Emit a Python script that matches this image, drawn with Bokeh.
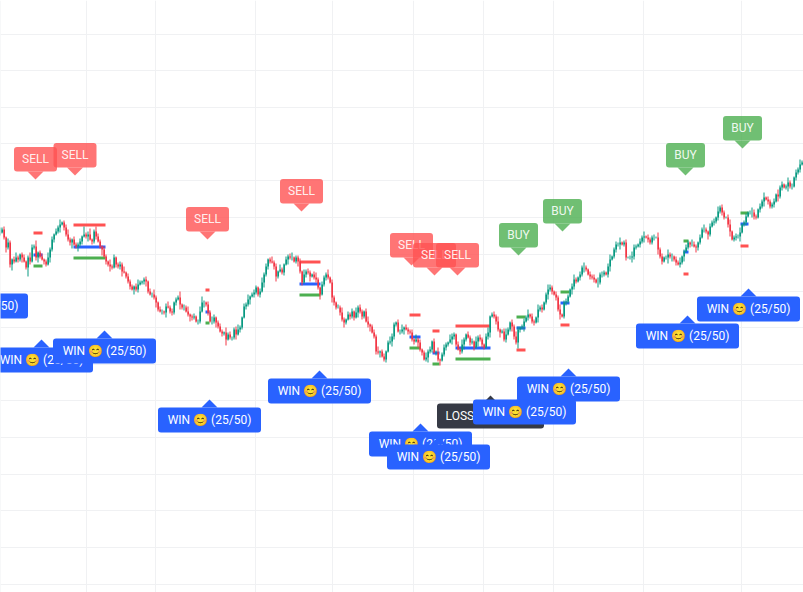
from bokeh.embed import file_html
from bokeh.resources import INLINE
from bokeh.plotting import figure
from bokeh.models import Range1d, FixedTicker
from bokeh.core.properties import value

# Prices, one bar per time step (time step = 2 units)
closes_a = [359,362,354,344,349,327,332,330,334,332,337,334,330,324,334,330,344,345,334,339,
            335,332,330,327,334,342,352,357,360,364,367,369,364,357,352,349,352,347,345,347,
            350,355,357,355,357,352,350,360,355,350,345,342,335,330,327,325,324,334,327,325,
            327,320,319,315,310,305,302,305,302,307,309,310,312,310,300,297,297,294,289,282,
            280,280,279,285,284,280,279,289,292,294,287,284,284,280,277,275,274,275,270,270]
closes_b = [280,289,289,287,279,270,270,274,269,265,260,258,259,252,257,254,254,262,257,262,
            264,274,285,287,292,295,297,299,304,297,300,309,317,325,332,330,329,325,315,320,
            322,319,327,332,335,334,334,330,334,330,320,309,317,320,319,315,317,314,312,304,
            297,307,314,317,314,309,294,289,284,284,279,272,269,272,277,275,280,274,279,284,
            280,275,280,270,267,265,259,255,240,239,240,235,232,240,249,250,255,267,269,260]
closes_c = [260,262,264,262,260,259,252,250,252,249,242,239,232,234,240,242,250,239,239,232,
            231,237,244,247,249,252,255,257,247,242,240,247,252,257,254,249,250,244,250,254,
            252,247,244,255,259,275,277,275,270,262,259,260,252,257,262,269,265,255,249,262,
            264,265,270,274,277,275,270,269,274,282,284,282,289,297,302,304,300,297,294,282,
            277,275,289,290,295,302,305,312,310,314,317,324,324,322,317,315,314,312,309,309]
closes_d = [317,317,319,317,325,332,335,342,347,347,349,347,349,334,334,334,335,344,345,347,
            350,354,355,354,352,349,354,354,354,342,335,330,334,334,337,335,335,332,329,327,
            329,335,340,344,349,347,347,345,344,349,354,362,362,360,357,365,369,370,374,380,
            384,379,374,374,367,360,352,354,355,355,359,367,369,375,379,379,379,375,374,382,
            385,390,394,392,390,385,387,390,397,395,404,407,404,405,409,405,405,414,419,422,
            427,429]
closes = closes_a + closes_b + closes_c + closes_d

# How far each wick reaches past the body
wick_up = [5,2,3,1,4,2,1,3,5,2,1,2,3,1,2,5,3,2,6,1,2,3,1,2,5,2,3,1,3,2,5,1,2,3,5,2,1,3,2,2,
           3,1,8,2,3,6,1,2,5,3,2,1,3,2,1,5,2,3,1,2,3,2,5,1,3,2,2,1,3,5,2,1,2,3,1,3,2,5,2,1,
           3,2,1,3,5,2,3,1,2,2,6,1,3,2,5,1,2,3,1,2,5,6,2,1,3,2,5,3,1,2,3,2,1,5,2,3,1,2,3,5,
           2,1,3,2,5,1,2,3,2,1,3,5,2,3,1,2,5,2,3,1,5,2,1,3,2,3,5,1,2,2,3,1,5,2,3,2,1,3,5,2,
           1,3,2,2,5,1,3,2,1,3,2,5,2,1,3,2,3,1,5,2,3,2,1,3,5,1,2,3,2,5,1,2,3,1,2,5,3,2,1,3,
           2,5,1,3,2,2,3,1,5,2,3,1,2,5,2,3,1,3,2,5,1,2,3,2,1,5,3,2,1,3,2,5,2,1,3,2,3,1,5,2,
           3,2,1,3,5,1,2,3,2,5,1,2,3,6,2,1,3,2,5,3,1,2,3,2,5,1,3,2,1,5,2,3,1,2,5,3,2,1,3,2,
           5,1,2,3,2,1,3,5,2,1,3,2,5,2,1,3,2,3,1,5,2,3,2,1,3,5,1,2,3,2,5,1,2,3,1,2,5,3,2,1,
           3,2,5,1,3,2,2,3,1,5,2,3,1,2,5,2,3,1,3,2,5,1,2,3,2,1,5,3,2,1,3,2,5,2,1,3,2,3,1,5,
           2,3,2,1,3,5,1,2,3,2,5,1,2,3,1,2,5,3,2,1,3,2,5,1,3,2,2,3,1,5,2,3,1,2,5,2,3,1,3,2,
           5,2]
wick_down = [3,1,2,5,2,3,6,2,1,3,2,5,1,2,9,3,1,2,3,5,2,1,3,2,1,5,2,3,1,2,5,1,3,2,2,3,6,1,2,5,
             2,3,1,2,5,1,3,2,3,1,2,6,1,3,2,5,2,1,3,2,3,5,1,2,2,3,1,5,2,3,1,2,3,5,2,1,3,2,5,2,
             1,3,2,5,1,2,3,2,3,1,5,2,3,1,2,5,3,2,1,3,2,1,5,2,3,1,3,2,5,2,1,3,2,6,1,2,3,2,5,1,
             3,2,1,3,2,5,1,3,2,2,3,1,5,2,3,2,1,3,5,2,1,2,3,1,5,2,3,1,2,5,2,3,1,3,2,5,1,2,3,2,
             5,1,2,3,2,1,5,3,2,1,3,2,5,2,1,3,2,3,1,5,2,3,2,1,3,5,1,2,3,2,5,1,2,3,1,2,5,3,2,1,
             3,2,5,1,3,2,2,3,1,5,2,3,1,2,5,2,3,1,3,2,5,1,2,3,2,1,5,3,2,1,3,2,5,2,1,3,2,3,1,5,
             2,3,2,1,3,5,1,2,3,2,5,1,2,3,1,2,5,3,2,6,3,2,5,1,3,2,2,3,1,5,2,3,1,2,5,2,3,1,3,2,
             5,1,2,3,2,1,5,3,2,1,3,2,5,2,1,3,2,3,1,5,2,3,2,1,3,5,1,2,3,2,5,1,2,3,1,2,5,3,2,1,
             3,2,5,1,3,2,2,3,1,5,2,3,1,2,6,2,5,2,3,1,3,2,5,1,2,3,2,1,5,3,2,1,3,2,5,2,1,3,2,3,
             2,3,2,1,3,5,1,2,3,2,5,1,2,3,1,2,5,3,2,1,3,2,5,1,3,2,2,3,1,5,2,3,1,2,5,2,3,1,3,2,
             3,1]

# Trade levels
level_start = [34,74,206,300,410,433,456,517,561,684,741]
level_end = [43,106,210,321,421,440,491,526,570,689,749]
level_red = [358.5,366.5,301.5,329.5,276.5,260.5,265.5,241.5,266.5,317.5,345.5]
level_blue = [336.5,344.5,279.5,307.5,254.5,238.5,243.5,263.5,288.5,339.5,367.5]
level_green = [325.5,333.5,268.5,296.5,243.5,227.5,232.5,274.5,299.5,350.5,378.5]

# Signals (flags above price, point at the anchor)
sell_x = [36,75.5,208,302,412,435,458]
sell_y = [412,416,352,380,326,316,316]
buy_x = [519,563,686,743]
buy_y = [336,360,416,443]
buy_labels = ["BUY"] * 4
sell_labels = ["SELL"] * 7

# Results (flags below price, in drawing order)
result_x = [-23,491,569,42,105,210,320,421,439,525,688,749]
result_y = [306,196,223,252,261,192,221,168,155,200,276,303]
result_labels = ["WIN 😊 (25/50)","LOSS 😭 (25/50)","WIN 😊 (25/50)","WIN 😊 (25/50)","WIN 😊 (25/50)",
                 "WIN 😊 (25/50)","WIN 😊 (25/50)","WIN 😊 (25/50)","WIN 😊 (25/50)","WIN 😊 (25/50)",
                 "WIN 😊 (25/50)","WIN 😊 (25/50)"]
result_colors = ["#2962ff","#363a45"] + ["#2962ff"] * 10

grid_x = [0.5,86.5,155.5,255.5,332.5,413.5,483.5,553.5,643.5,741.5]
grid_y = [557.5,521.5,484.5,448.5,411.5,374.5,337.5,300.5,264.5,227.5,191.5,154.5,117.5,81.5,44.5,7.5]

UP, DOWN = "#089981", "#f23645"
n = len(closes)
times = [2 * i + 0.5 for i in range(n)]
opens = [closes[0]] + closes[:-1]
highs = [max(o, c) + w for o, c, w in zip(opens, closes, wick_up + [1] * n)]
lows = [min(o, c) - w for o, c, w in zip(opens, closes, wick_down + [1] * n)]
colors = [UP if c >= o else DOWN for o, c in zip(opens, closes)]

p = figure(width=803, height=592, output_backend="svg", toolbar_location=None,
           x_range=Range1d(1, 804), y_range=Range1d(-1, 591), min_border=0,
           background_fill_color="white", border_fill_color="white", outline_line_color=None)
p.xaxis.visible = False
p.yaxis.visible = False
p.xgrid.ticker = FixedTicker(ticks=grid_x)
p.ygrid.ticker = FixedTicker(ticks=grid_y)
p.xgrid.grid_line_color = "#f0f1f3"
p.ygrid.grid_line_color = "#f0f1f3"

for ys, col in ((level_red, "#ff5252"), (level_blue, "#2962ff"), (level_green, "#4caf50")):
    p.segment(level_start, ys, level_end, ys, line_color=col, line_width=3, line_cap="butt")

p.segment(times, highs, times, lows, line_color=colors, line_width=1)
p.vbar(x=[t + 0.25 for t in times], top=[max(o, c) for o, c in zip(opens, closes)],
       bottom=[min(o, c) for o, c in zip(opens, closes)], width=1.5,
       fill_color=colors, line_color=None)

def flags_above(xs, ys, labels, col):
    hw, tip, h = 21.5 if labels[0] == "SELL" else 19.5, 8, 24.5
    for x, y, lab in zip(xs, ys, labels):
        p.quad(left=[x - hw], right=[x + hw], bottom=[y + tip], top=[y + tip + h],
               fill_color=col, fill_alpha=0.8, line_color=None, border_radius=3)
        p.patches([[x - 8, x, x + 8]], [[y + tip, y, y + tip]],
                  fill_color=col, fill_alpha=0.8, line_color=None)
        p.text([x], [y + tip + h / 2 + 0.5], text=[lab], text_align="center",
               text_baseline="middle", text_color="white", text_alpha=0.9,
               text_font=value("Roboto"), text_font_size="12px")

flags_above(sell_x, sell_y, sell_labels, "#ff5252")
flags_above(buy_x, buy_y, buy_labels, "#4caf50")

for x, y, lab, col in zip(result_x, result_y, result_labels, result_colors):
    hw = 53.5 if lab.startswith("LOSS") else 51.5
    p.quad(left=[x - hw], right=[x + hw], top=[y - 8], bottom=[y - 33],
           fill_color=col, line_color=None, border_radius=3)
    p.patches([[x - 8, x, x + 8]], [[y - 8, y, y - 8]], fill_color=col, line_color=None)
    p.text([x], [y - 20], text=[lab], text_align="center", text_baseline="middle",
           text_color="white", text_font=value("Roboto"), text_font_size="12px")

html = file_html(p, INLINE)
html = html.replace("<head>", "<head><style>html,body{margin:0;padding:0}</style>", 1)
open("out.html", "w").write(html)
